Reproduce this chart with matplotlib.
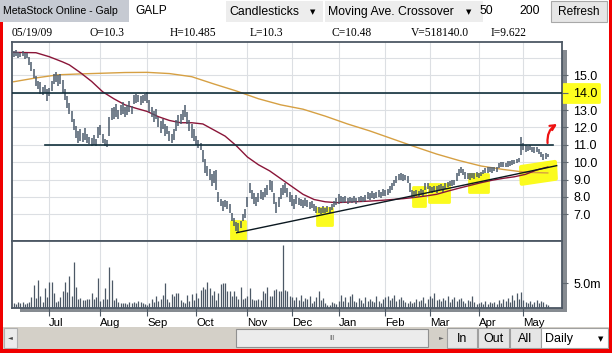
import matplotlib
matplotlib.use("Agg")
import matplotlib.pyplot as plt
import numpy as np
import pandas as pd
from matplotlib.patches import Rectangle, Polygon

plt.rcParams['font.family'] = ['Liberation Sans', 'DejaVu Sans']

# ---------------- data ----------------
start_date = '2008-06-09'
end_date = '2009-05-19'
market_holidays = ['2008-12-25', '2008-12-26', '2009-01-01', '2009-04-10', '2009-04-13', '2009-05-01']

lows = [
    16.05, 16.10, 16.00, 16.05, 16.10, 15.95, 16.00, 15.60, 15.25, 14.85,
    14.40, 14.20, 13.95, 13.85, 14.00, 13.50, 13.80, 14.10, 14.50, 14.60,
    14.40, 14.50, 14.00, 13.60, 13.10, 12.80, 12.30, 11.85, 11.40, 11.10,
    11.20, 11.15, 11.30, 11.10, 11.05, 10.95, 11.00, 10.95, 11.40, 11.55,
    11.10, 10.95, 10.90, 11.50, 12.40, 12.50, 12.60, 12.50, 12.70, 12.80,
    12.60, 12.70, 12.90, 12.75, 13.35, 13.40, 13.45, 13.30, 13.40, 13.50,
    13.40, 12.90, 12.60, 12.30, 12.50, 12.00, 11.70, 11.90, 11.50, 11.60,
    11.20, 11.10, 11.30, 11.80, 12.10, 12.20, 12.40, 12.60, 12.20, 11.80,
    11.40, 11.20, 11.00, 10.80, 10.70, 10.00, 9.40, 9.20, 9.00, 8.60,
    8.80, 8.40, 7.70, 7.50, 7.20, 7.40, 7.30, 7.05, 6.60, 6.30,
    6.05, 5.95, 6.20, 6.60, 6.80, 7.40, 8.20, 7.90, 7.60, 7.50,
    7.70, 7.90, 7.80, 8.00, 8.10, 8.40, 8.30, 7.60, 7.05, 7.40,
    7.90, 8.10, 8.20, 8.00, 7.70, 7.50, 7.30, 7.60, 7.55, 7.45,
    7.35, 7.50, 7.40, 7.30, 7.35, 7.20, 7.10, 7.05, 7.00, 7.10,
    7.05, 7.15, 7.10, 7.25, 7.40, 7.55, 7.60, 7.70, 7.65, 7.70,
    7.60, 7.70, 7.65, 7.70, 7.60, 7.70, 7.75, 7.70, 7.75, 7.90,
    7.85, 7.95, 7.90, 7.95, 8.00, 7.95, 8.05, 8.05, 8.10, 8.20,
    8.40, 8.60, 8.80, 8.95, 9.00, 8.90, 8.95, 8.80, 8.30, 8.00,
    7.95, 8.05, 8.00, 8.10, 8.05, 8.40, 8.45, 8.30, 8.20, 8.30,
    8.25, 8.35, 8.40, 8.30, 8.45, 8.55, 8.60, 8.65, 8.70, 8.90,
    9.20, 9.40, 9.25, 9.05, 9.05, 9.00, 9.10, 9.05, 9.15, 9.10,
    9.20, 9.30, 9.35, 9.40, 9.45, 9.40, 9.50, 9.45, 9.65, 9.70,
    9.75, 9.70, 9.75, 9.80, 9.85, 9.90, 9.95, 10.00, 10.40, 10.70,
    10.60, 10.65, 10.70, 10.60, 10.55, 10.60, 10.45, 10.30, 10.15, 10.20,
    10.30]

highs = [
    16.40, 16.45, 16.35, 16.30, 16.40, 16.30, 16.30, 16.05, 15.75, 15.35,
    14.95, 14.70, 14.60, 14.30, 14.45, 14.20, 14.25, 14.70, 15.10, 15.20,
    15.00, 15.05, 14.75, 14.20, 13.80, 13.40, 12.95, 12.50, 12.10, 11.80,
    11.90, 11.70, 11.95, 11.60, 11.45, 11.40, 11.55, 11.35, 12.05, 12.15,
    11.65, 11.35, 11.30, 12.60, 13.10, 13.20, 13.35, 13.00, 13.30, 13.45,
    13.15, 13.30, 13.50, 13.25, 13.85, 13.90, 13.85, 13.80, 13.85, 13.90,
    14.05, 13.60, 13.20, 12.95, 13.05, 12.60, 12.35, 12.50, 12.20, 12.10,
    11.80, 11.60, 11.90, 12.40, 12.70, 12.80, 13.00, 13.30, 12.90, 12.40,
    12.20, 11.90, 11.50, 11.30, 11.10, 10.70, 10.20, 9.80, 9.60, 9.30,
    9.50, 9.55, 8.30, 7.90, 7.75, 7.80, 7.75, 7.60, 7.10, 6.80,
    6.55, 6.50, 6.60, 7.00, 7.30, 8.00, 8.80, 8.40, 8.20, 8.00,
    8.20, 8.40, 8.30, 8.50, 8.70, 9.00, 8.90, 8.20, 7.70, 8.00,
    8.50, 8.70, 8.80, 8.50, 8.30, 8.10, 7.90, 8.10, 7.95, 7.90,
    7.85, 7.95, 7.80, 7.70, 7.75, 7.60, 7.45, 7.40, 7.35, 7.45,
    7.35, 7.50, 7.40, 7.60, 7.75, 7.95, 8.15, 8.05, 8.00, 8.05,
    7.95, 8.00, 7.95, 8.05, 7.95, 8.00, 8.05, 8.00, 8.10, 8.30,
    8.20, 8.35, 8.25, 8.30, 8.40, 8.30, 8.45, 8.40, 8.45, 8.60,
    8.80, 9.00, 9.20, 9.30, 9.35, 9.30, 9.25, 9.20, 8.80, 8.40,
    8.35, 8.40, 8.35, 8.45, 8.40, 8.80, 8.80, 8.65, 8.55, 8.65,
    8.60, 8.70, 8.75, 8.65, 8.80, 8.85, 8.90, 8.95, 9.00, 9.35,
    9.60, 9.75, 9.60, 9.45, 9.40, 9.35, 9.40, 9.35, 9.45, 9.40,
    9.45, 9.55, 9.65, 9.70, 9.75, 9.70, 9.75, 9.70, 9.95, 10.00,
    10.00, 9.95, 10.05, 10.05, 10.10, 10.15, 10.20, 10.25, 11.45, 11.10,
    11.00, 10.95, 11.00, 10.90, 10.85, 10.90, 10.75, 10.60, 10.45, 10.50,
    10.485]

volumes_m = [
    1.1, 0.9, 1.2, 1.0, 1.3, 0.8, 1.0, 1.3,
    2.3, 4.7, 2.0, 5.7, 2.4, 1.2, 4.0, 2.2,
    5.2, 5.2, 3.0, 1.3, 1.5, 2.3, 3.5, 5.3,
    3.3, 6.5, 2.5, 9.3, 4.3, 1.8, 2.0, 1.6,
    1.7, 1.8, 1.8, 3.0, 1.8, 2.3, 6.0, 1.4,
    1.8, 4.0, 1.8, 8.3, 5.7, 1.7, 2.0, 1.3,
    1.1, 1.0, 1.0, 0.9, 1.3, 1.1, 1.3, 1.0,
    1.5, 1.2, 1.0, 0.8, 0.7, 1.0, 1.8, 1.3,
    2.4, 1.5, 1.8, 2.7, 5.0, 1.8, 1.3, 2.8,
    2.5, 3.0, 3.0, 1.7, 1.3, 1.1, 2.7, 1.5,
    2.8, 1.7, 3.0, 2.0, 3.7, 4.3, 3.9, 5.3,
    4.0, 2.7, 3.5, 1.6, 3.0, 4.8, 5.1, 5.0,
    3.5, 3.5, 2.4, 3.4, 2.4, 1.9, 4.3, 1.9,
    2.0, 2.5, 4.0, 1.8, 1.6, 1.6, 1.8, 1.6,
    3.5, 3.0, 4.3, 2.5, 2.5, 3.6, 3.9, 3.5,
    3.5, 12.7, 3.6, 3.4, 2.4, 2.2, 1.6, 2.3,
    1.6, 2.7, 1.4, 2.0, 1.8, 2.4, 1.0, 1.4,
    2.2, 3.4, 1.6, 2.0, 1.0, 0.7, 0.6, 1.2,
    1.0, 0.8, 1.5, 2.6, 1.4, 2.2, 1.2, 2.4,
    2.8, 1.4, 1.2, 2.0, 1.6, 1.0, 2.2, 1.4,
    1.8, 1.5, 1.2, 2.4, 1.5, 1.1, 1.8, 2.2,
    2.5, 1.6, 2.0, 2.6, 1.4, 1.8, 2.2, 1.6,
    1.2, 1.0, 1.5, 1.0, 1.2, 1.8, 1.4, 1.6,
    2.2, 1.0, 1.8, 2.4, 2.0, 3.0, 1.6, 1.8,
    1.4, 2.0, 1.6, 2.4, 1.2, 1.8, 2.2, 1.4,
    1.8, 2.0, 1.4, 1.0, 1.6, 1.4, 2.4, 1.2,
    0.8, 1.0, 1.2, 0.9, 1.4, 0.8, 1.2, 1.0,
    1.3, 0.8, 1.6, 1.0, 1.9, 1.4, 2.0, 1.2,
    2.6, 1.6, 3.0, 1.8, 3.2, 1.6, 1.2, 1.0,
    1.4, 0.9, 1.2, 1.6, 1.0, 1.4, 1.2, 0.8, 0.6]

# moving averages read at sampled trading days
ma50_day = [0, 10, 16, 22, 25, 30, 35, 40, 45, 50, 55, 60, 65, 70, 75, 80, 85, 90, 95, 100,
            105, 110, 115, 120, 125, 130, 135, 140, 145, 150, 155, 160, 165, 170, 175, 180,
            185, 190, 195, 200, 205, 210, 215, 220, 225, 230, 235, 240]
ma50_val = [16.32, 16.30, 16.07, 15.77, 15.60, 15.15, 14.65, 14.05, 13.65, 13.30, 13.10, 12.92,
            12.62, 12.40, 12.27, 12.27, 12.20, 11.85, 11.50, 10.95, 10.30, 9.85, 9.50, 9.05,
            8.60, 8.15, 7.85, 7.72, 7.67, 7.70, 7.73, 7.76, 7.80, 7.85, 7.90, 7.97, 8.05,
            8.15, 8.33, 8.50, 8.66, 8.82, 8.96, 9.07, 9.16, 9.30, 9.55, 9.72]
ma200_day = [0, 10, 20, 30, 40, 50, 60, 70, 80, 90, 100, 110, 120, 130, 140, 150, 160, 170,
             180, 190, 200, 210, 220, 230, 240]
ma200_val = [14.63, 14.85, 15.03, 15.08, 15.12, 15.16, 15.17, 15.10, 14.92, 14.50, 14.10, 13.65,
             13.30, 13.05, 12.65, 12.20, 11.80, 11.35, 10.90, 10.47, 10.10, 9.78, 9.58, 9.42, 9.38]

# drawn annotations (in trading-day / price units)
levels = [14.0, 11.0]
level_from = [-1.0, 14.1]
level_to = [247.0, 242.3]
trend_day = [100.2, 244.0]
trend_price = [5.94, 9.80]
highlight_boxes = [(97.6, 104.0, 5.58, 6.61), (136.3, 143.0, 6.38, 7.36),
                   (179.4, 184.8, 7.48, 8.57), (186.6, 195.6, 7.71, 8.74),
                   (204.6, 213.1, 8.28, 9.32)]
highlight_blob_day = [228.0, 243.2, 243.6, 228.3]
highlight_blob_price = [9.72, 10.01, 9.05, 8.76]

price_ticks = [7, 8, 9, 10, 11, 12, 13, 14, 15]
price_grid = [7, 8, 9, 10, 11, 12, 13, 14, 15, 16]

# ---------------- calendar ----------------
dates = pd.bdate_range(start_date, end_date)
dates = dates[~dates.isin(pd.to_datetime(market_holidays))]
x = np.arange(len(dates))
month_pos, month_lab = [], []
for k in range(1, len(dates)):
    if dates[k].month != dates[k - 1].month:
        month_pos.append(k)
        month_lab.append(dates[k].strftime('%b'))

# ---------------- figure ----------------
W, H = 612, 353
fig = plt.figure(figsize=(W / 100, H / 100), dpi=100)
fig.patch.set_facecolor('white')
bg = fig.add_axes([0, 0, 1, 1], zorder=0)
bg.set_xlim(0, W)
bg.set_ylim(H, 0)
bg.axis('off')

XL, XR, YT, YM, YB = 12, 562, 42, 241, 308


def frac(x0, y0, x1, y1):
    return [x0 / W, 1 - y1 / H, (x1 - x0) / W, (y1 - y0) / H]


def box(x0, y0, w, h, fc, ec='none', lw=0.8, z=1):
    bg.add_patch(Rectangle((x0, y0), w, h, facecolor=fc, edgecolor=ec, linewidth=lw, zorder=z))


# header row
box(0, 0, 129, 22, '#c6cad2')
bg.text(3, 11.5, 'MetaStock Online - Galp', fontsize=7.6, va='center', ha='left')
bg.text(135, 11, 'GALP', fontsize=8.6, va='center', ha='left')
box(226, 1, 97, 21, '#ededed')
bg.text(229, 12, 'Candlesticks', fontsize=8.8, va='center', ha='left')
bg.text(313, 12, '▼', fontsize=5, va='center', ha='center', family='DejaVu Sans')
box(325, 1, 158, 21, '#ededed')
bg.text(328, 12, 'Moving Ave. Crossover', fontsize=8.8, va='center', ha='left')
bg.text(469, 12, '▼', fontsize=5, va='center', ha='center', family='DejaVu Sans')
bg.text(479, 11, '50', fontsize=8.8, va='center', ha='left')
bg.text(519, 11, '200', fontsize=8.8, va='center', ha='left')
box(551, 1, 56, 21, '#e6e6e6', ec='#a8a8a8')
bg.text(579, 12, 'Refresh', fontsize=8.6, va='center', ha='center')

# info row
info = [(12, '05/19/09'), (90, 'O=10.3'), (170, 'H=10.485'), (250, 'L=10.3'),
        (331, 'C=10.48'), (411, 'V=518140.0'), (491, 'I=9.622')]
for xx, tt in info:
    bg.text(xx, 33, tt, fontsize=8.3, va='center', ha='left', family='Liberation Serif')

# panel shadow
box(562, 50, 4.5, 262, '#868b91')
box(20, 308, 546.5, 4, '#868b91')
# highlight on 14.0 label
bg.add_patch(Rectangle((563, 84), 36, 18, facecolor='#ffff20', edgecolor='#ffff20',
                       linewidth=2, joinstyle='round', zorder=1.5))

# bottom toolbar
box(3, 327, 606, 22, '#d4d0c8')
box(4, 328, 13, 20, '#ececec', ec='#b0b0b0')
bg.text(10, 338, '◄', fontsize=4.5, va='center', ha='center', family='DejaVu Sans', color='#444')
box(236, 329, 192, 18, '#ececec', ec='#909090')
bg.text(332, 338, 'III', fontsize=5, va='center', ha='center', color='#666')
bg.text(441, 338, '►', fontsize=4.5, va='center', ha='center', family='DejaVu Sans', color='#666')
for bx, bw, lab in [(447, 30, 'In'), (478, 31, 'Out'), (510, 31, 'All')]:
    box(bx, 328, bw, 20, '#e6e6e6', ec='#a0a0a0')
    bg.text(bx + bw / 2, 339, lab, fontsize=9, va='center', ha='center')
box(541, 328, 67, 20, 'white', ec='#a0a0a0')
bg.text(545, 339, 'Daily', fontsize=9, va='center', ha='left')
bg.text(601, 339, '▼', fontsize=5, va='center', ha='center', family='DejaVu Sans')

# red border
box(0, 22, 3, 331, '#f00000', z=5)
box(609, 0, 3, 353, '#f00000', z=5)
box(0, 349, 612, 4, '#f00000', z=5)

# ---------------- chart axes ----------------
px_per_day = 2.2254
x0px = 13.69
xmin = (XL - x0px) / px_per_day
xmax = (XR - x0px) / px_per_day

ax = fig.add_axes(frac(XL, YT, XR, YM), zorder=2)
av = fig.add_axes(frac(XL, YM, XR, YB), zorder=2)

frame_col = '#4d5864'
grid_col = '#dcdfe3'
for a in (ax, av):
    a.set_xlim(xmin, xmax)
    for p in month_pos:
        a.axvline(p, color=grid_col, lw=0.8, zorder=0)
    for s in a.spines.values():
        s.set_color(frame_col)
        s.set_linewidth(1.3)

ax.set_ylim(5.463, 16.917)
for g in price_grid:
    ax.axhline(g, color=grid_col, lw=0.8, zorder=0)

# highlights
for d0, d1, p0, p1 in highlight_boxes:
    ax.add_patch(Rectangle((d0, p0), d1 - d0, p1 - p0, facecolor='#fbfb1e', edgecolor='#fbfb1e',
                           linewidth=2, joinstyle='round', zorder=1))
ax.add_patch(Polygon(list(zip(highlight_blob_day, highlight_blob_price)), closed=True,
                     facecolor='#fbfb1e', edgecolor='#fbfb1e', linewidth=3,
                     joinstyle='round', zorder=1))

# moving averages
ax.plot(ma200_day, ma200_val, color='#d6a043', lw=1.0, zorder=2)
ax.plot(ma50_day, ma50_val, color='#8a1538', lw=1.0, zorder=2)

# candles
ax.vlines(x, lows, highs, color='#4c5b6c', lw=1.1, zorder=3)

# drawn lines
for lv, a0, a1 in zip(levels, level_from, level_to):
    ax.plot([a0, a1], [lv, lv], color='#12303c', lw=1.2, zorder=4)
ax.plot(trend_day, trend_price, color='#0b1820', lw=1.0, zorder=4)

# red hand-drawn arrow
ax.annotate('', xy=(244.2, 12.2), xytext=(239.9, 11.1),
            arrowprops=dict(arrowstyle='->', color='#ee1111', lw=1.6, mutation_scale=9,
                            connectionstyle='arc3,rad=-0.3', shrinkA=0, shrinkB=0),
            zorder=6, annotation_clip=False)

ax.set_xticks([])
ax.yaxis.tick_right()
ax.set_yticks(price_ticks)
ax.set_yticklabels([f'{v:.1f}' for v in price_ticks])
ax.tick_params(axis='y', direction='out', length=4, pad=4, labelsize=9, color='#606870')

# volume
av.set_ylim(0, 13.56)
av.vlines(x, 0, volumes_m, color='#4c5866', lw=0.9, zorder=3)
av.yaxis.tick_right()
av.set_yticks([5])
av.set_yticklabels(['5.0m'])
av.tick_params(axis='y', direction='out', length=4, pad=4, labelsize=9, color='#606870')
av.set_xticks(month_pos)
av.set_xticklabels(month_lab)
for lbl in av.get_xticklabels():
    lbl.set_horizontalalignment('left')
av.tick_params(axis='x', direction='out', length=6, pad=1.5, labelsize=8.2, color=frame_col)

fig.savefig('out.png', dpi=100, facecolor='white')
